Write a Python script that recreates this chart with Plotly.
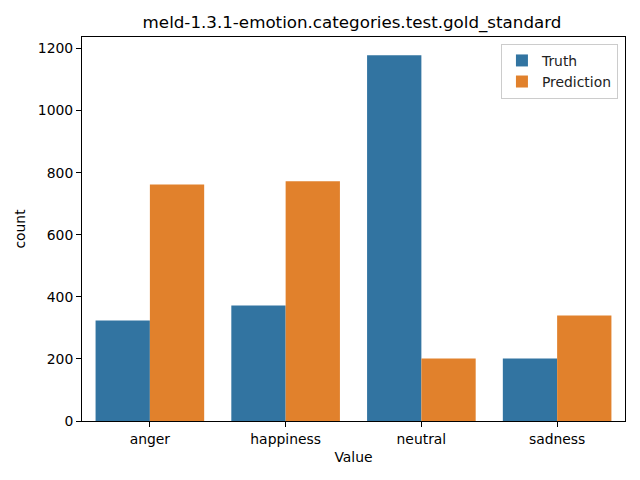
import plotly.graph_objects as go

categories = ["anger", "happiness", "neutral", "sadness"]
truth = [324, 372, 1178, 201]
prediction = [762, 772, 201, 340]
series_names = ["Truth", "Prediction"]
yticks = [0, 200, 400, 600, 800, 1000, 1200]

font = "DejaVu Sans"
fig = go.Figure()
fig.add_trace(go.Bar(x=list(range(len(categories))), y=truth, name=series_names[0],
                     marker=dict(color="#3274a1", line=dict(width=0))))
fig.add_trace(go.Bar(x=list(range(len(categories))), y=prediction, name=series_names[1],
                     marker=dict(color="#e1812c", line=dict(width=0))))

ymax = max(max(truth), max(prediction)) * 1.05

# page has ~8px body offset; compensate margins
fig.update_layout(
    width=640, height=480,
    margin=dict(l=72, r=23, t=29, b=67),
    paper_bgcolor="white", plot_bgcolor="white",
    barmode="group", bargap=0.2, bargroupgap=0,
    font=dict(family=font, size=13.9, color="black"),
    title=dict(text="meld-1.3.1-emotion.categories.test.gold_standard",
               x=344 / 640, xanchor="center", y=1 - 14 / 480, yanchor="middle",
               font=dict(family=font, size=16.7, color="black")),
    showlegend=True,
    legend=dict(x=0.987, xanchor="right", y=0.982, yanchor="top",
                bordercolor="#cccccc", borderwidth=1, bgcolor="rgba(255,255,255,0.8)",
                font=dict(family=font, size=13.9, color="#222222"),
                tracegroupgap=2),
    xaxis=dict(range=[-0.5, 3.5], tickmode="array", tickvals=list(range(len(categories))),
               ticktext=categories, showgrid=False, zeroline=False,
               showline=True, linecolor="black", linewidth=1, mirror=True,
               ticks="outside", ticklen=5, tickwidth=1, tickcolor="black",
               title=dict(text="Value", standoff=6, font=dict(family=font, size=13.9))),
    yaxis=dict(range=[0, ymax], tickmode="array", tickvals=yticks,
               showgrid=False, zeroline=False,
               showline=True, linecolor="black", linewidth=1, mirror=True,
               ticks="outside", ticklen=5, tickwidth=1, tickcolor="black",
               title=dict(text="count", standoff=8, font=dict(family=font, size=13.9))),
)

fig.write_html("out.html")
